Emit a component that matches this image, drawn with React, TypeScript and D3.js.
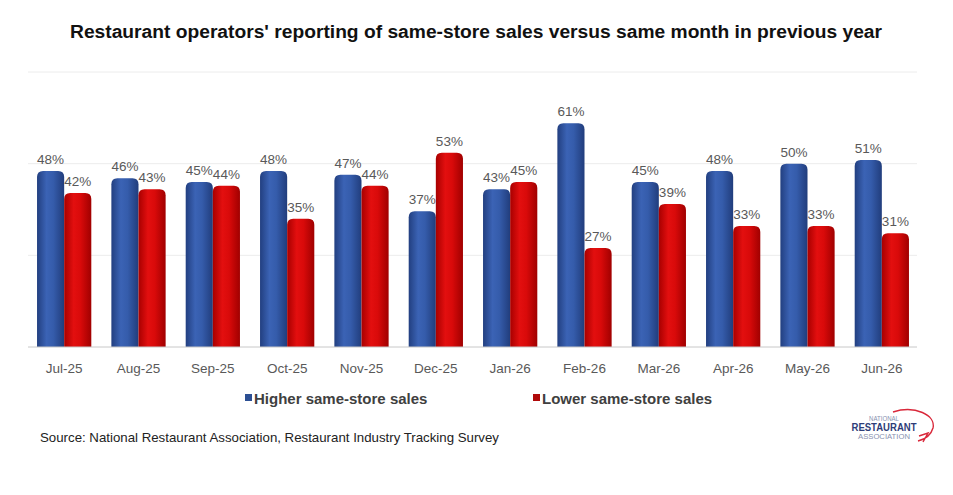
import React from 'react';
import * as d3 from 'd3';

const months = ['Jul-25', 'Aug-25', 'Sep-25', 'Oct-25', 'Nov-25', 'Dec-25', 'Jan-26', 'Feb-26', 'Mar-26', 'Apr-26', 'May-26', 'Jun-26'];
const higher = [48, 46, 45, 48, 47, 37, 43, 61, 45, 48, 50, 51];
const lower = [42, 43, 44, 35, 44, 53, 45, 27, 39, 33, 33, 31];
const gridTicks = [25, 50, 75];

const W = 953;
const H = 495;
const FONT = 'Arial, "Liberation Sans", Helvetica, sans-serif';

const series = [
  { key: 'higher', label: 'Higher same-store sales', values: higher, grad: 'gBlue', swatch: '#2c4f93' },
  { key: 'lower', label: 'Lower same-store sales', values: lower, grad: 'gRed', swatch: '#b00a0a' },
];

// bar with rounded top corners
function barPath(x: number, y: number, w: number, h: number, r: number) {
  const rr = Math.min(r, h / 2, w / 2);
  return `M${x},${y + h}V${y + rr}Q${x},${y} ${x + rr},${y}H${x + w - rr}Q${x + w},${y} ${x + w},${y + rr}V${y + h}Z`;
}

export default function App() {
  const x0 = d3.scaleBand<string>().domain(months).range([27, 919]).paddingInner(0.27).paddingOuter(0.135);
  const x1 = d3.scaleBand<string>().domain(series.map((s) => s.key)).range([0, x0.bandwidth()]);
  const y = d3.scaleLinear().domain([0, 75]).range([347, 72]);

  return (
    <div style={{ position: 'absolute', left: 0, top: 0 }}>
      <svg width={W} height={H} viewBox={`0 0 ${W} ${H}`} style={{ display: 'block', background: '#fff' }}>
        <defs>
          <linearGradient id="gBlue" x1="0" x2="1" y1="0" y2="0">
            <stop offset="0%" stopColor="#223f80" />
            <stop offset="35%" stopColor="#3b63b5" />
            <stop offset="60%" stopColor="#355cab" />
            <stop offset="100%" stopColor="#213d7c" />
          </linearGradient>
          <linearGradient id="gRed" x1="0" x2="1" y1="0" y2="0">
            <stop offset="0%" stopColor="#a80000" />
            <stop offset="35%" stopColor="#e30f0f" />
            <stop offset="60%" stopColor="#d90a0a" />
            <stop offset="100%" stopColor="#a00000" />
          </linearGradient>
        </defs>

        <text
          x={476}
          y={38}
          textAnchor="middle"
          fontFamily={FONT}
          fontSize={18}
          fontWeight="bold"
          fill="#111"
          textLength={812}
          lengthAdjust="spacingAndGlyphs"
        >
          Restaurant operators' reporting of same-store sales versus same month in previous year
        </text>

        {/* gridlines */}
        {gridTicks.map((t) => (
          <line key={t} x1={28} x2={917} y1={y(t)} y2={y(t)} stroke="#ececec" strokeWidth={1} />
        ))}

        {/* bars */}
        {months.map((m, i) => (
          <g key={m} transform={`translate(${x0(m)},0)`}>
            {series.map((s) => {
              const v = s.values[i];
              const bx = x1(s.key)!;
              const bw = x1.bandwidth();
              return (
                <g key={s.key}>
                  <path d={barPath(bx, y(v), bw, y(0) - y(v), 6)} fill={`url(#${s.grad})`} />
                  <text
                    x={bx + bw / 2}
                    y={y(v) - 7}
                    textAnchor="middle"
                    fontFamily={FONT}
                    fontSize={13.5}
                    fill="#595959"
                  >
                    {v}%
                  </text>
                </g>
              );
            })}
          </g>
        ))}

        {/* baseline */}
        <line x1={28} x2={917} y1={y(0)} y2={y(0)} stroke="#c8c8c8" strokeWidth={1} />

        {/* x labels */}
        {months.map((m) => (
          <text
            key={m}
            x={x0(m)! + x0.bandwidth() / 2}
            y={373}
            textAnchor="middle"
            fontFamily={FONT}
            fontSize={13.5}
            fill="#595959"
          >
            {m}
          </text>
        ))}

        {/* legend */}
        {series.map((s, i) => (
          <g key={s.key} transform={`translate(${[245, 533][i]},0)`}>
            <rect x={0} y={394} width={7} height={7} fill={s.swatch} />
            <text x={9} y={404} fontFamily={FONT} fontSize={15} fontWeight="bold" fill="#404040">
              {s.label}
            </text>
          </g>
        ))}

        <text x={40} y={442} fontFamily={FONT} fontSize={13} fill="#222" textLength={459} lengthAdjust="spacingAndGlyphs">
          Source: National Restaurant Association, Restaurant Industry Tracking Survey
        </text>

        {/* logo */}
        <g fontFamily={FONT} textAnchor="middle">
          <text x={884} y={421} fontSize={7} fill="#8890b0" textLength={30} lengthAdjust="spacingAndGlyphs">NATIONAL</text>
          <text x={884} y={431} fontSize={10} fontWeight="bold" fill="#2e3d78" textLength={65} lengthAdjust="spacingAndGlyphs">RESTAURANT</text>
          <text x={884} y={439} fontSize={7} fill="#8890b0" textLength={52} lengthAdjust="spacingAndGlyphs">ASSOCIATION</text>
          <path
            d="M893,412 C915,405 936,415 933,428 C931,435 926,439 918,441 M919,436 L928,433 L923,442"
            fill="none"
            stroke="#d9283a"
            strokeWidth={1.4}
          />
        </g>
      </svg>
    </div>
  );
}
